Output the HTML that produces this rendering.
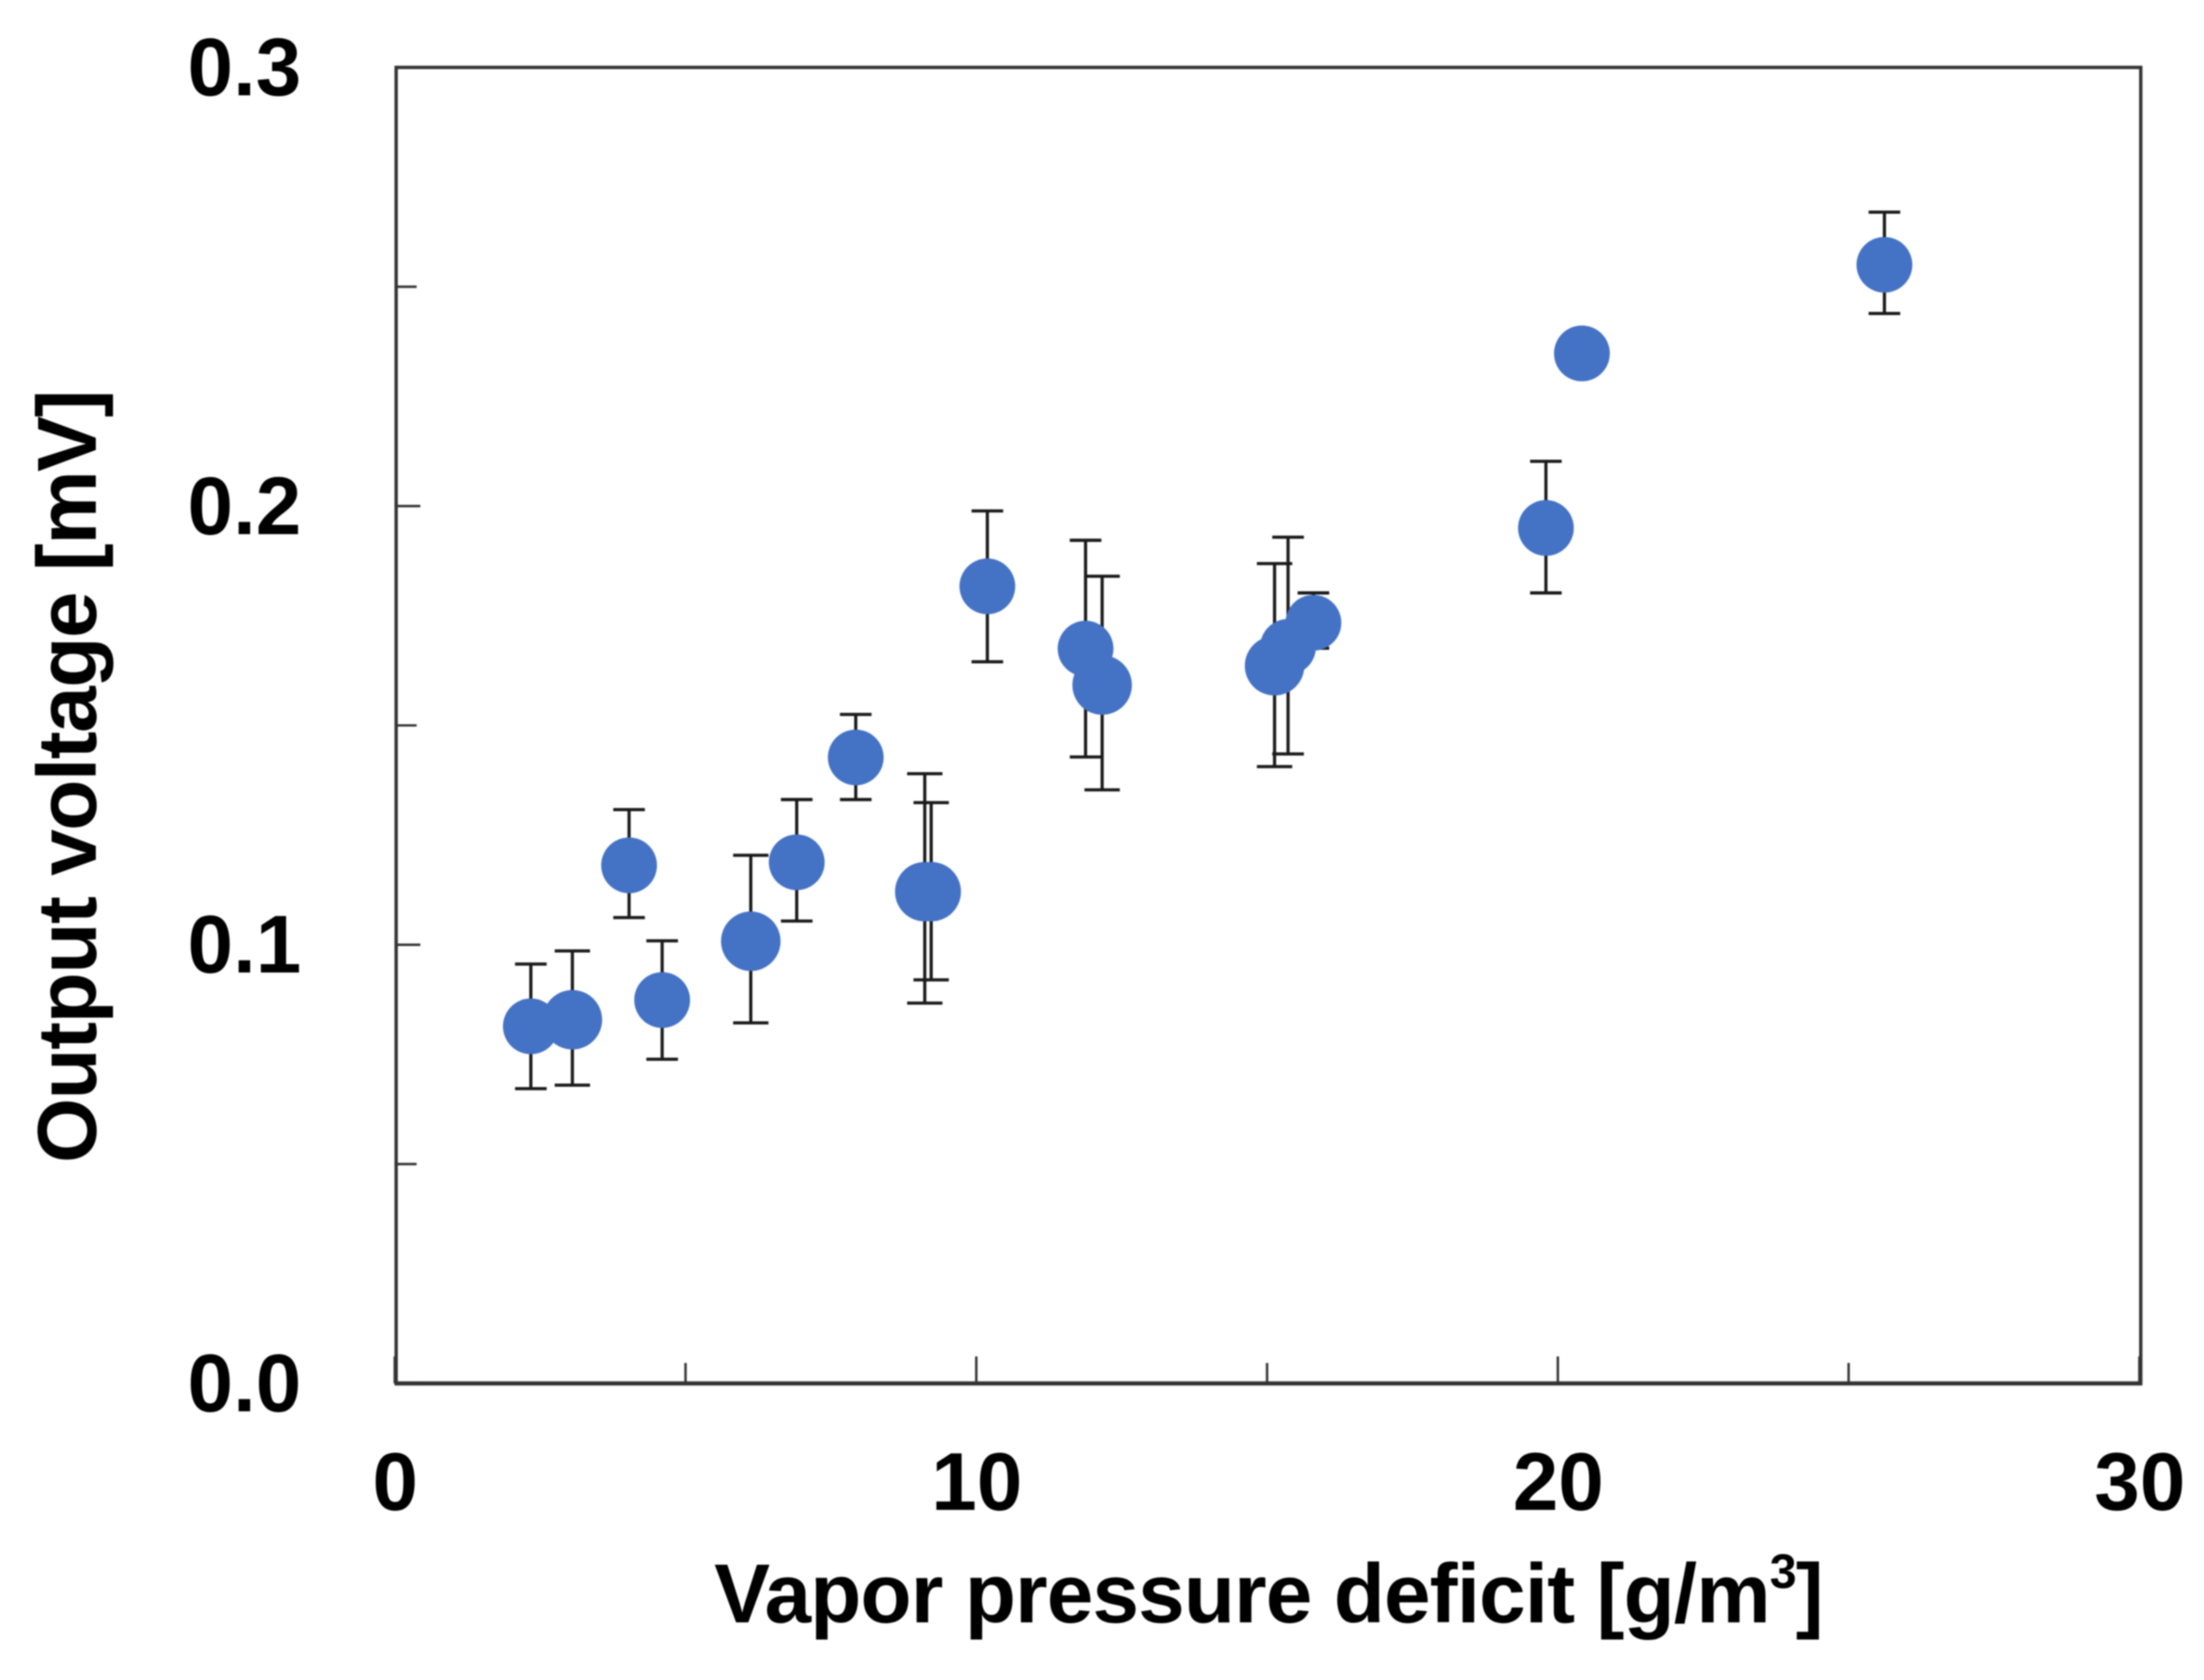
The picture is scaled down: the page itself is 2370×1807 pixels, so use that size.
<!DOCTYPE html>
<html lang="en">
<head>
<meta charset="utf-8">
<title>Output voltage vs vapor pressure deficit</title>
<style>
  html, body { margin: 0; padding: 0; background: #ffffff; }
  body { width: 2370px; height: 1807px; overflow: hidden; }
  svg { display: block; filter: blur(0.7px); }
  text { font-family: "Liberation Sans", sans-serif; font-weight: 700; fill: #000; }
</style>
</head>
<body>
<svg id="chart" xmlns="http://www.w3.org/2000/svg" width="2370" height="1807" viewBox="0 0 2370 1807">
  <rect x="0" y="0" width="2370" height="1807" fill="#ffffff"></rect>
  <rect x="426" y="72.5" width="1876" height="1415.5" fill="none" stroke="#333333" stroke-width="3.6"></rect>
  <line x1="424.5" x2="2303.5" y1="1488" y2="1488" stroke="#333333" stroke-width="4.6"></line>
  <g id="x-ticks"></g>
  <g id="y-ticks"></g>
  <g id="x-labels"></g>
  <g id="y-labels"></g>
  <g id="error-bars"></g>
  <g id="markers"></g>
  <text x="768" y="1745" font-size="90" textLength="1193" lengthAdjust="spacing">Vapor pressure deficit [g/m<tspan font-size="52" dy="-37">3</tspan><tspan dy="37">]</tspan></text>
  <text transform="translate(103 1251) rotate(-90)" x="0" y="0" font-size="90" textLength="832" lengthAdjust="spacing">Output voltage [mV]</text>
</svg>
<script>
const vpd = [2.316, 3.03, 4.005, 4.574, 6.098, 6.888, 7.903, 9.09, 9.2, 10.166, 11.855, 12.14, 15.105, 15.337, 15.773, 19.771, 20.39, 25.592];
const voltage = [0.0814, 0.0829, 0.1181, 0.0874, 0.1008, 0.1188, 0.1427, 0.1121, 0.1121, 0.1817, 0.1675, 0.1592, 0.1636, 0.1679, 0.1734, 0.195, 0.2348, 0.255];
const errorHigh = [0.0956, 0.0986, 0.1308, 0.1009, 0.1204, 0.1331, 0.1525, 0.139, 0.1324, 0.1989, 0.1922, 0.184, 0.1869, 0.1929, 0.1802, 0.2102, null, 0.267];
const errorLow = [0.0672, 0.068, 0.1062, 0.0739, 0.0822, 0.1054, 0.1331, 0.0867, 0.092, 0.1645, 0.1428, 0.1353, 0.1406, 0.1435, 0.1676, 0.1802, null, 0.2439];
const largeMarkerIndices = [1, 4, 7, 8, 11, 12];
const xMajorTicks = [0, 10, 20, 30];
const xMinorTicks = [5, 15, 25];
const yMajorTicks = [0, 0.1, 0.2, 0.3];
const yMinorTicks = [0.05, 0.15, 0.25];
const xTickLabels = ['0', '10', '20', '30'];
const yTickLabels = ['0.0', '0.1', '0.2', '0.3'];

const SVG_NS = 'http://www.w3.org/2000/svg';
const plot = { left: 426, right: 2302, top: 72.5, bottom: 1488 };
const xDomain = [0, 30];
const yDomain = [0, 0.3];

function xScale(v) {
  return plot.left + (v - xDomain[0]) / (xDomain[1] - xDomain[0]) * (plot.right - plot.left);
}
function yScale(v) {
  return plot.bottom - (v - yDomain[0]) / (yDomain[1] - yDomain[0]) * (plot.bottom - plot.top);
}
function make(tag, attrs, parent) {
  const el = document.createElementNS(SVG_NS, tag);
  Object.keys(attrs).forEach(function (k) { el.setAttribute(k, attrs[k]); });
  parent.appendChild(el);
  return el;
}

const xTickGroup = document.getElementById('x-ticks');
const yTickGroup = document.getElementById('y-ticks');
const xLabelGroup = document.getElementById('x-labels');
const yLabelGroup = document.getElementById('y-labels');
const errorGroup = document.getElementById('error-bars');
const markerGroup = document.getElementById('markers');

function drawXTick(v, len) {
  const el = make('line', { x1: xScale(v) - 1.5, x2: xScale(v) - 1.5, y1: plot.bottom, y2: plot.bottom - len, stroke: '#333333', 'stroke-width': 2.6 }, xTickGroup);
  
  
}
function drawYTick(v, len) {
  const el = make('line', { x1: plot.left, x2: plot.left + len, y1: yScale(v), y2: yScale(v), stroke: '#333333', 'stroke-width': 2.6 }, yTickGroup);
  
  
}
xMajorTicks.forEach(function (v) { drawXTick(v, 29); });
xMinorTicks.forEach(function (v) { drawXTick(v, 22); });
yMajorTicks.forEach(function (v) { drawYTick(v, 26); });
yMinorTicks.forEach(function (v) { drawYTick(v, 22); });

xMajorTicks.forEach(function (v, i) {
  const t = make('text', { x: xScale(v) - 1, y: 1624, 'font-size': 88, 'text-anchor': 'middle' }, xLabelGroup);
  t.textContent = xTickLabels[i];
  
  
});
yMajorTicks.forEach(function (v, i) {
  const t = make('text', { x: 324, y: yScale(v) + 30, 'font-size': 88, 'text-anchor': 'end' }, yLabelGroup);
  t.textContent = yTickLabels[i];
  
  
});

vpd.forEach(function (v, i) {
  if (errorHigh[i] === null || errorLow[i] === null) { return; }
  const large = largeMarkerIndices.indexOf(i) !== -1;
  const half = large ? 19 : 17;
  const cx = xScale(v);
  const hi = yScale(errorHigh[i]);
  const lo = yScale(errorLow[i]);
  const d = 'M' + cx + ' ' + hi + 'V' + lo + 'M' + (cx - half) + ' ' + hi + 'H' + (cx + half) + 'M' + (cx - half) + ' ' + lo + 'H' + (cx + half);
  const bar = make('path', { d: d, fill: 'none', stroke: '#1a1a1a', 'stroke-width': 3.4 }, errorGroup);
  
  
});

vpd.forEach(function (v, i) {
  const large = largeMarkerIndices.indexOf(i) !== -1;
  const dot = make('circle', { cx: xScale(v), cy: yScale(voltage[i]), r: large ? 32 : 30, fill: '#4472c4' }, markerGroup);
  
  
});
</script>
</body>
</html>
